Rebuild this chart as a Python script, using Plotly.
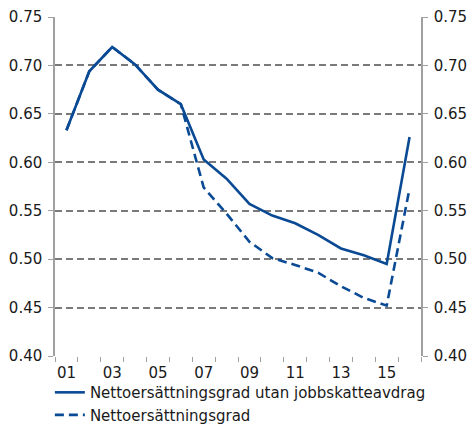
import plotly.graph_objects as go

categories = ["01","02","03","04","05","06","07","08","09","10","11","12","13","14","15","16"]
tick_labels = ["01","","03","","05","","07","","09","","11","","13","","15",""]
utan_jobbskatteavdrag = [0.633, 0.694, 0.719, 0.701, 0.675, 0.660, 0.603, 0.583, 0.557, 0.545, 0.537, 0.525, 0.511, 0.504, 0.495, 0.626]
nettoersattningsgrad = [0.633, 0.694, 0.719, 0.701, 0.675, 0.660, 0.574, 0.547, 0.518, 0.501, 0.494, 0.486, 0.472, 0.460, 0.452, 0.573]
y_ticks = [0.40, 0.45, 0.50, 0.55, 0.60, 0.65, 0.70, 0.75]
y_labels = ["0.40", "0.45", "0.50", "0.55", "0.60", "0.65", "0.70", "0.75"]

blue = "#0a4a94"
grid = "#7a7a7a"
axis_col = "#a0a0a0"
font = "DejaVu Sans"

fig = go.Figure()
fig.add_trace(go.Scatter(x=categories, y=nettoersattningsgrad, mode="lines",
                         name="Nettoersättningsgrad",
                         line=dict(color=blue, width=2.6, dash="9px,5px")))
fig.add_trace(go.Scatter(x=categories, y=utan_jobbskatteavdrag, mode="lines",
                         name="Nettoersättningsgrad utan jobbskatteavdrag",
                         line=dict(color=blue, width=2.6)))
fig.add_trace(go.Scatter(x=categories, y=utan_jobbskatteavdrag, yaxis="y2", mode="lines",
                         line=dict(width=0), showlegend=False, hoverinfo="skip"))

fig.update_layout(
    width=468, height=424,
    margin=dict(l=55, r=47, t=17, b=68),
    paper_bgcolor="white", plot_bgcolor="white",
    font=dict(family=font, size=15, color="#1a1a1a"),
    showlegend=True,
    legend=dict(orientation="v", xref="paper", yref="container",
                x=-0.014, y=0.113, xanchor="left", yanchor="top",
                traceorder="reversed", font=dict(size=15), tracegroupgap=0,
                itemwidth=30, bgcolor="rgba(0,0,0,0)"),
    xaxis=dict(type="category", categoryorder="array", categoryarray=categories,
               tickmode="array", tickvals=categories, ticktext=tick_labels,
               tickson="boundaries", ticks="outside", ticklen=5, tickcolor=axis_col,
               tickangle=0, automargin=False, ticklabelstandoff=6,
               showgrid=False, showline=False, zeroline=False,
               range=[-0.5, 15.5], tickfont=dict(size=15)),
    yaxis=dict(range=[0.40, 0.75], tickmode="array", tickvals=y_ticks, ticktext=y_labels,
               ticks="outside", ticklen=5, tickcolor=axis_col, automargin=False,
               ticklabelstandoff=3,
               showgrid=True, gridcolor=grid, gridwidth=1.8, griddash="7px,4px",
               showline=True, linecolor=axis_col, linewidth=1.5, zeroline=False),
    yaxis2=dict(range=[0.40, 0.75], overlaying="y", side="right",
                tickmode="array", tickvals=y_ticks, ticktext=y_labels,
                ticks="outside", ticklen=5, tickcolor=axis_col, automargin=False,
                ticklabelstandoff=3,
                showgrid=False, showline=True, linecolor=axis_col, linewidth=1.5,
                zeroline=False),
)

fig.write_html("out.html", config={"displayModeBar": False},
               post_script="document.body.style.margin='0';")
